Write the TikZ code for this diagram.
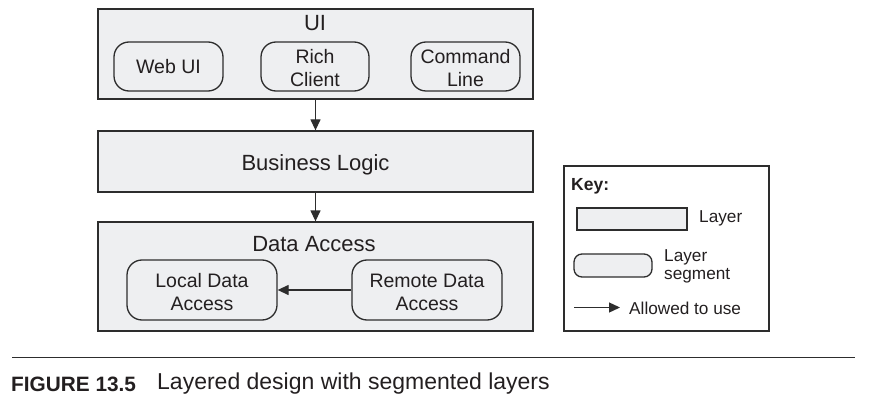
\documentclass[tikz,border=0pt]{standalone}
\usepackage{fontspec}
\setmainfont{Liberation Sans}
\usetikzlibrary{arrows.meta}
\definecolor{layerfill}{RGB}{238,239,241}
\definecolor{ink}{RGB}{35,31,32}
\definecolor{linec}{RGB}{45,45,45}
\tikzset{
  layerbox/.style={draw=linec, line width=1.3pt, fill=layerfill, rectangle, inner sep=0pt},
  segbox/.style={draw=linec, line width=1.3pt, fill=layerfill, rectangle, rounded corners=15pt, inner sep=0pt},
  segtxt/.style={align=center, text=ink, inner sep=0pt, font=\fontsize{19.5}{23}\selectfont},
  lbl/.style={text=ink, inner sep=0pt, font=\fontsize{22}{26}\selectfont},
  keytxt/.style={text=ink, inner sep=0pt, anchor=west, font=\fontsize{17.2}{18}\selectfont, align=left},
  usesarrow/.style={draw=linec, line width=1.3pt, -{Triangle[length=11pt,width=10pt]}},
}
\begin{document}
\begin{tikzpicture}[x=1pt,y=-1pt]
\useasboundingbox (0,0) rectangle (869,406);
% UI layer
\node[layerbox, minimum width=435pt, minimum height=90pt] (ui) at (315.5,54) {};
\node[lbl] (uilbl) at (315,23) {UI};
\node[segbox, minimum width=109pt, minimum height=49pt, label={[segtxt]center:Web UI}] (web) at (168.5,66.5) {};
\node[segbox, minimum width=108pt, minimum height=49pt, label={[segtxt, yshift=-2pt]center:Rich\\Client}] (rich) at (315,66.5) {};
\node[segbox, minimum width=109pt, minimum height=49pt, label={[segtxt, yshift=-2pt]center:Command\\Line}] (cmd) at (465.5,66.5) {};
% Business logic
\node[layerbox, minimum width=435pt, minimum height=61pt, label={[lbl, yshift=-3pt]center:Business Logic}] (bl) at (315.5,161.5) {};
% Data access
\node[layerbox, minimum width=435pt, minimum height=109pt] (da) at (315.5,276.5) {};
\node[lbl] (dalbl) at (314,244) {Data Access};
\node[segbox, minimum width=150pt, minimum height=60pt, label={[segtxt, yshift=-2pt]center:Local Data\\Access}] (local) at (202,290) {};
\node[segbox, minimum width=150pt, minimum height=60pt, label={[segtxt, yshift=-2pt]center:Remote Data\\Access}] (remote) at (427,290) {};
% connectors
\draw[usesarrow] (ui.south) -- (bl.north);
\draw[usesarrow] (bl.south) -- (da.north);
\draw[usesarrow] (remote.west) -- (local.east);
% Key
\node[draw=linec, line width=1.3pt, rectangle, inner sep=0pt, minimum width=205pt, minimum height=165pt] (key) at (666.5,248.5) {};
\node[keytxt, font=\fontsize{17.5}{20}\bfseries\selectfont] (keylbl) at (571,186.5) {Key:};
\node[layerbox, minimum width=110pt, minimum height=22pt] (klayer) at (632,219) {};
\node[keytxt] (klayert) at (699,218.5) {Layer};
\node[layerbox, rounded corners=8pt, minimum width=78pt, minimum height=23pt] (kseg) at (613,265.5) {};
\node[keytxt] (ksegt) at (664,266) {Layer\\segment};
\coordinate (ka) at (574,307.5);
\coordinate (kb) at (620,307.5);
\node[keytxt] (karrt) at (629,308.5) {Allowed to use};
\draw[usesarrow] (ka) -- (kb);
% caption
\coordinate (cl) at (12,357.5);
\coordinate (cr) at (855,357.5);
\draw[draw=linec, line width=1.3pt] (cl) -- (cr);
\node[text=ink, inner sep=0pt, anchor=west, font=\fontsize{20.8}{24}\bfseries\selectfont] (fig) at (11,384) {FIGURE 13.5};
\node[text=ink, inner sep=0pt, anchor=west, font=\fontsize{23}{26}\selectfont] (cap) at (157,384) {Layered design with segmented layers};
\end{tikzpicture}
\end{document}
